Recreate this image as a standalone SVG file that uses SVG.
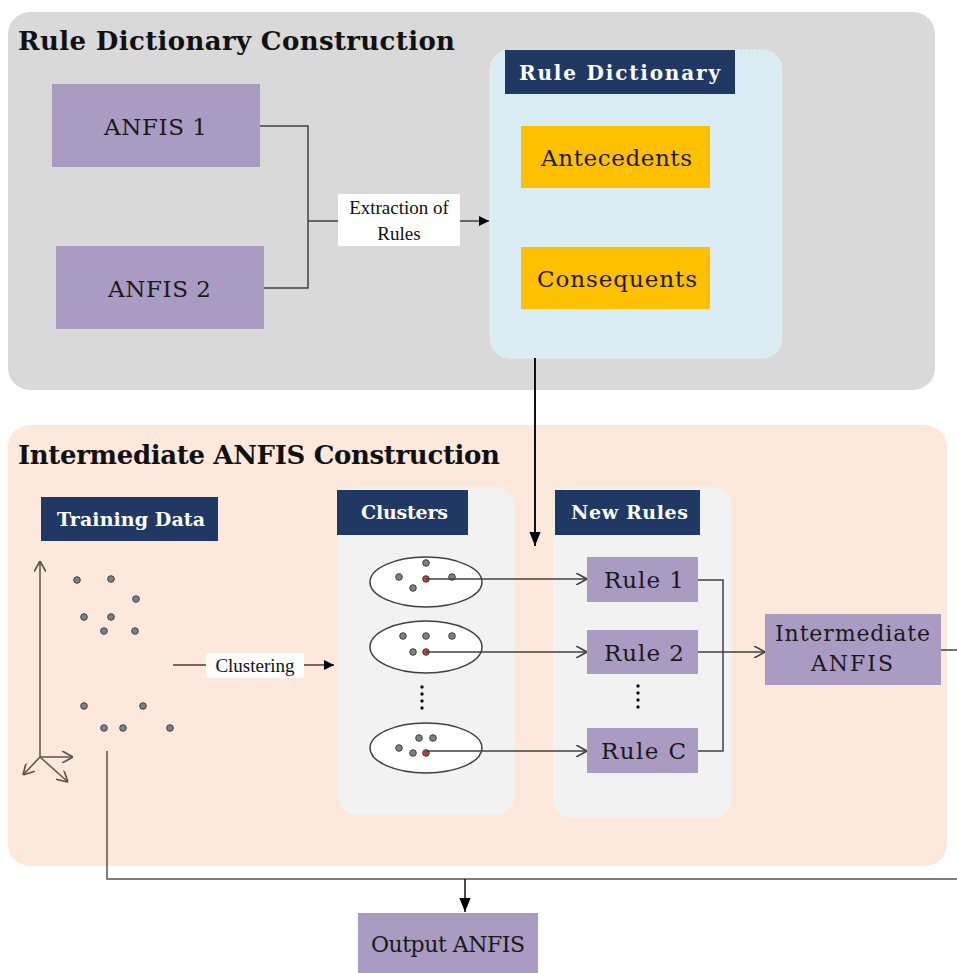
<svg xmlns="http://www.w3.org/2000/svg" width="957" height="973" viewBox="0 0 957 973">
<style>
.t{font-family:"DejaVu Serif","Liberation Serif",serif;fill:#1a1a1a}
.tb{font-family:"DejaVu Serif","Liberation Serif",serif;font-weight:bold;fill:#111}
.hd{font-family:"DejaVu Serif","Liberation Serif",serif;font-weight:bold;fill:#ffffff}
.tm{font-family:"Liberation Serif",serif;fill:#111}
.purple{fill:#a99bc1}
.navy{fill:#1f3864}
.gold{fill:#ffc000}
.ln{stroke:#404040;stroke-width:1.5;fill:none}
.ax{stroke:#5a5250;stroke-width:1.5;fill:none}
.dot{fill:#808080;stroke:#404040;stroke-width:1}
.red{fill:#b5413c;stroke:#404040;stroke-width:1}
.ell{fill:#ffffff;stroke:#404040;stroke-width:1.5}
</style>
<defs>
<marker id="fa" viewBox="0 0 10 10" refX="10" refY="5" markerWidth="10" markerHeight="10" markerUnits="userSpaceOnUse" orient="auto"><path d="M0,0 L10,5 L0,10 Z" fill="#000"/></marker>
<marker id="fb" viewBox="0 0 10 10" refX="10" refY="5" markerWidth="14" markerHeight="14" markerUnits="userSpaceOnUse" orient="auto"><path d="M0,1 L10,5 L0,9 Z" fill="#000"/></marker>
<marker id="oa" viewBox="0 0 10 10" refX="10" refY="5" markerWidth="12" markerHeight="12" markerUnits="userSpaceOnUse" orient="auto"><path d="M1,0 L10,5 L1,10" fill="none" stroke="#404040" stroke-width="1.3"/></marker>
<marker id="ax" viewBox="0 0 10 10" refX="10" refY="5" markerWidth="12" markerHeight="12" markerUnits="userSpaceOnUse" orient="auto"><path d="M1,0 L10,5 L1,10" fill="none" stroke="#5a5250" stroke-width="1.4"/></marker>
</defs>

<g id="panel-rule-dictionary-construction">
<rect x="8" y="12" width="927" height="378" rx="22" fill="#d9d9d9"/>
<text class="tb" x="18" y="50" font-size="26" textLength="437">Rule Dictionary Construction</text>
</g>

<g id="panel-intermediate">
<rect x="8" y="425" width="939" height="441" rx="22" fill="#fce9dc"/>
<text class="tb" x="18" y="464" font-size="26" textLength="482">Intermediate ANFIS Construction</text>
</g>

<g id="rule-dictionary">
<rect x="490" y="50" width="292" height="308" rx="20" fill="#dbedf4" stroke="#f0f7fa" stroke-width="1" stroke-dasharray="2 2"/>
<rect class="navy" x="505" y="50" width="230" height="44"/>
<text class="hd" x="519" y="80" font-size="20" textLength="201">Rule Dictionary</text>
</g>
<g id="antecedents">
<rect class="gold" x="521" y="126" width="189" height="62"/>
<text class="t" x="541" y="166" font-size="23" textLength="151">Antecedents</text>
</g>
<g id="consequents">
<rect class="gold" x="521" y="247" width="189" height="62"/>
<text class="t" x="537" y="287" font-size="23" textLength="160">Consequents</text>
</g>

<g id="anfis1">
<rect class="purple" x="52" y="84" width="208" height="83"/>
<text class="t" x="104" y="135" font-size="23" textLength="103">ANFIS 1</text>
</g>
<g id="anfis2">
<rect class="purple" x="56" y="246" width="208" height="83"/>
<text class="t" x="108" y="297" font-size="23" textLength="103">ANFIS 2</text>
</g>

<g id="clusters">
<rect x="338" y="487" width="177" height="328" rx="20" fill="#f2f2f2"/>
<rect class="navy" x="337" y="490" width="131" height="45"/>
<text class="hd" x="361" y="519" font-size="19" textLength="87">Clusters</text>
<ellipse class="ell" cx="426" cy="582" rx="56" ry="25"/>
<ellipse class="ell" cx="426" cy="647" rx="56" ry="26"/>
<ellipse class="ell" cx="426" cy="748" rx="56" ry="25"/>
<g>
<circle class="dot" cx="426" cy="563" r="3.3"/>
<circle class="dot" cx="399" cy="577" r="3.3"/>
<circle class="dot" cx="452" cy="577" r="3.3"/>
<circle class="dot" cx="413" cy="588" r="3.3"/>
<circle class="red" cx="426" cy="579" r="3.3"/>
<circle class="dot" cx="403" cy="636" r="3.3"/>
<circle class="dot" cx="426" cy="636" r="3.3"/>
<circle class="dot" cx="452" cy="636" r="3.3"/>
<circle class="dot" cx="413" cy="652" r="3.3"/>
<circle class="red" cx="426" cy="652" r="3.3"/>
<circle class="dot" cx="419" cy="738" r="3.3"/>
<circle class="dot" cx="433" cy="738" r="3.3"/>
<circle class="dot" cx="399" cy="748" r="3.3"/>
<circle class="dot" cx="413" cy="753" r="3.3"/>
<circle class="red" cx="426" cy="753" r="3.3"/>
</g>
<g fill="#111">
<circle cx="422" cy="687" r="1.7"/><circle cx="422" cy="694" r="1.7"/><circle cx="422" cy="701" r="1.7"/><circle cx="422" cy="708" r="1.7"/>
</g>
</g>

<g id="new-rules">
<rect x="553" y="487" width="179" height="331" rx="20" fill="#f2f2f2"/>
<rect class="navy" x="555" y="490" width="145" height="45"/>
<text class="hd" x="571" y="519" font-size="19" textLength="117">New Rules</text>
<g fill="#111">
<circle cx="638" cy="686" r="1.7"/><circle cx="638" cy="693" r="1.7"/><circle cx="638" cy="700" r="1.7"/><circle cx="638" cy="707" r="1.7"/>
</g>
</g>
<g id="rule1">
<rect class="purple" x="587" y="557" width="111" height="45"/>
<text class="t" x="604" y="588" font-size="23" textLength="80">Rule 1</text>
</g>
<g id="rule2">
<rect class="purple" x="587" y="630" width="111" height="44"/>
<text class="t" x="604" y="661" font-size="23" textLength="80">Rule 2</text>
</g>
<g id="ruleC">
<rect class="purple" x="587" y="728" width="111" height="45"/>
<text class="t" x="601" y="759" font-size="23" textLength="85">Rule C</text>
</g>

<g id="intermediate-anfis">
<rect class="purple" x="765" y="614" width="176" height="71"/>
<text class="t" x="775" y="641" font-size="22" textLength="155">Intermediate</text>
<text class="t" x="811" y="671" font-size="22" textLength="82">ANFIS</text>
</g>

<g id="output-anfis">
<rect class="purple" x="358" y="913" width="180" height="60"/>
<text class="t" x="371" y="952" font-size="22" textLength="154">Output ANFIS</text>
</g>

<g id="training-data">
<rect class="navy" x="41" y="497" width="177" height="44"/>
<text class="hd" x="57" y="526" font-size="19" textLength="148">Training Data</text>
<line class="ax" x1="40" y1="757" x2="40" y2="561" marker-end="url(#ax)"/>
<line class="ax" x1="40" y1="757" x2="73" y2="757" marker-end="url(#ax)"/>
<line class="ax" x1="40" y1="757" x2="23" y2="775" marker-end="url(#ax)"/>
<line class="ax" x1="40" y1="757" x2="68" y2="782" marker-end="url(#ax)"/>
<circle class="dot" cx="77" cy="580" r="3.3"/>
<circle class="dot" cx="111" cy="579" r="3.3"/>
<circle class="dot" cx="136" cy="599" r="3.3"/>
<circle class="dot" cx="84" cy="617" r="3.3"/>
<circle class="dot" cx="111" cy="617" r="3.3"/>
<circle class="dot" cx="104" cy="631" r="3.3"/>
<circle class="dot" cx="135" cy="631" r="3.3"/>
<circle class="dot" cx="84" cy="706" r="3.3"/>
<circle class="dot" cx="143" cy="706" r="3.3"/>
<circle class="dot" cx="104" cy="728" r="3.3"/>
<circle class="dot" cx="123" cy="728" r="3.3"/>
<circle class="dot" cx="170" cy="728" r="3.3"/>
</g>

<g id="connectors">
<path class="ln" d="M260,126 H308 V288 H264"/>
<line class="ln" x1="308" y1="221" x2="489" y2="221" marker-end="url(#fa)"/>
<rect x="338" y="194" width="122" height="52" fill="#ffffff"/>
<text class="tm" x="399" y="214" font-size="19" text-anchor="middle">Extraction of</text>
<text class="tm" x="399" y="240" font-size="19" text-anchor="middle">Rules</text>

<line stroke="#111" stroke-width="2" x1="535" y1="358" x2="535" y2="546" marker-end="url(#fb)"/>

<line class="ln" x1="173" y1="665" x2="334" y2="665" marker-end="url(#fa)"/>
<rect x="206" y="653" width="98" height="25" fill="#ffffff"/>
<text class="tm" x="255" y="672" font-size="19" text-anchor="middle">Clustering</text>

<line class="ln" x1="426" y1="579" x2="587" y2="579" marker-end="url(#oa)"/>
<line class="ln" x1="426" y1="652" x2="587" y2="652" marker-end="url(#oa)"/>
<line class="ln" x1="426" y1="751" x2="587" y2="751" marker-end="url(#oa)"/>

<path class="ln" d="M698,580 H723 V751 H698"/>
<line class="ln" x1="698" y1="652" x2="765" y2="652" marker-end="url(#oa)"/>
<line class="ln" x1="941" y1="650" x2="957" y2="650"/>

<path class="ax" d="M107,751 V879 H957"/>
<line stroke="#111" stroke-width="1.5" x1="465" y1="879" x2="465" y2="912" marker-end="url(#fb)"/>
</g>
</svg>
